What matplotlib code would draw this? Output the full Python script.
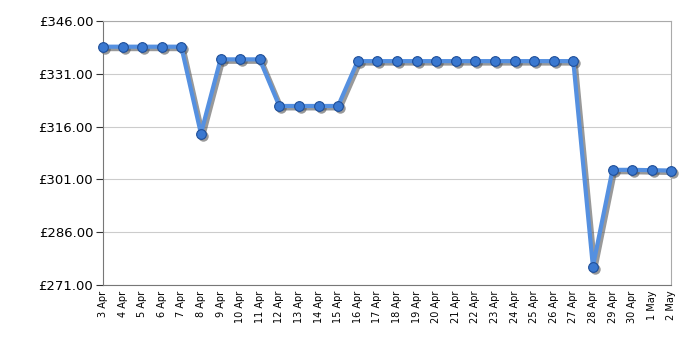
"""Price history line chart, 3 Apr to 2 May."""

import matplotlib

matplotlib.use("Agg")
import matplotlib.pyplot as plt
from matplotlib.ticker import FuncFormatter
from matplotlib.transforms import offset_copy

dates = [
    "3 Apr", "4 Apr", "5 Apr", "6 Apr", "7 Apr", "8 Apr", "9 Apr", "10 Apr",
    "11 Apr", "12 Apr", "13 Apr", "14 Apr", "15 Apr", "16 Apr", "17 Apr",
    "18 Apr", "19 Apr", "20 Apr", "21 Apr", "22 Apr", "23 Apr", "24 Apr",
    "25 Apr", "26 Apr", "27 Apr", "28 Apr", "29 Apr", "30 Apr", "1 May", "2 May",
]
prices = [
    338.7, 338.7, 338.7, 338.7, 338.7, 314.0, 335.1, 335.1,
    335.1, 321.85, 321.85, 321.85, 321.85, 334.6, 334.6,
    334.6, 334.6, 334.6, 334.6, 334.6, 334.6, 334.6,
    334.6, 334.6, 334.6, 276.2, 303.7, 303.7, 303.6, 303.5,
]
y_ticks = [271, 286, 301, 316, 331, 346]


def main():
    fig = plt.figure(figsize=(7, 3.5), dpi=100)
    ax = fig.add_axes([0.147, 0.186, 0.812, 0.754])

    x = list(range(len(dates)))

    # soft drop shadow: same series shifted a couple of pixels down-right
    shadow_tf = offset_copy(ax.transData, fig=fig, x=1.5, y=-1.5, units="points")
    ax.plot(
        x, prices, color="#555555", alpha=0.6, linewidth=3.5, marker="o",
        markersize=7.5, markeredgewidth=0, transform=shadow_tf, zorder=2, clip_on=False,
    )
    ax.plot(
        x, prices, color="#5590e0", linewidth=3, marker="o", markersize=7,
        markerfacecolor="#3a78d0", markeredgecolor="#1f4f99", markeredgewidth=0.8,
        zorder=3, clip_on=False,
    )

    ax.set_xlim(0, len(dates) - 1)
    ax.set_ylim(y_ticks[0], y_ticks[-1])

    ax.set_xticks(x)
    ax.set_xticklabels(dates, rotation=90, fontsize=7, va="top")
    ax.set_xticks(x[::3], minor=True)
    ax.tick_params(axis="x", which="major", length=0, pad=4)
    ax.tick_params(axis="x", which="minor", length=5, color="#333333")

    ax.set_yticks(y_ticks)
    ax.yaxis.set_major_formatter(FuncFormatter(lambda v, _: f"£{v:.2f}"))
    ax.tick_params(axis="y", length=5, color="#333333", labelsize=9.5, pad=2)

    ax.grid(which="minor", axis="x", color="#cccccc", linewidth=0.8)
    ax.grid(which="major", axis="y", color="#cccccc", linewidth=0.8)
    ax.set_axisbelow(True)

    for side in ("left", "bottom"):
        ax.spines[side].set_color("#777777")
    for side in ("top", "right"):
        ax.spines[side].set_color("#aaaaaa")

    fig.savefig("out.png", dpi=100)
    plt.close(fig)


if __name__ == "__main__":
    main()
